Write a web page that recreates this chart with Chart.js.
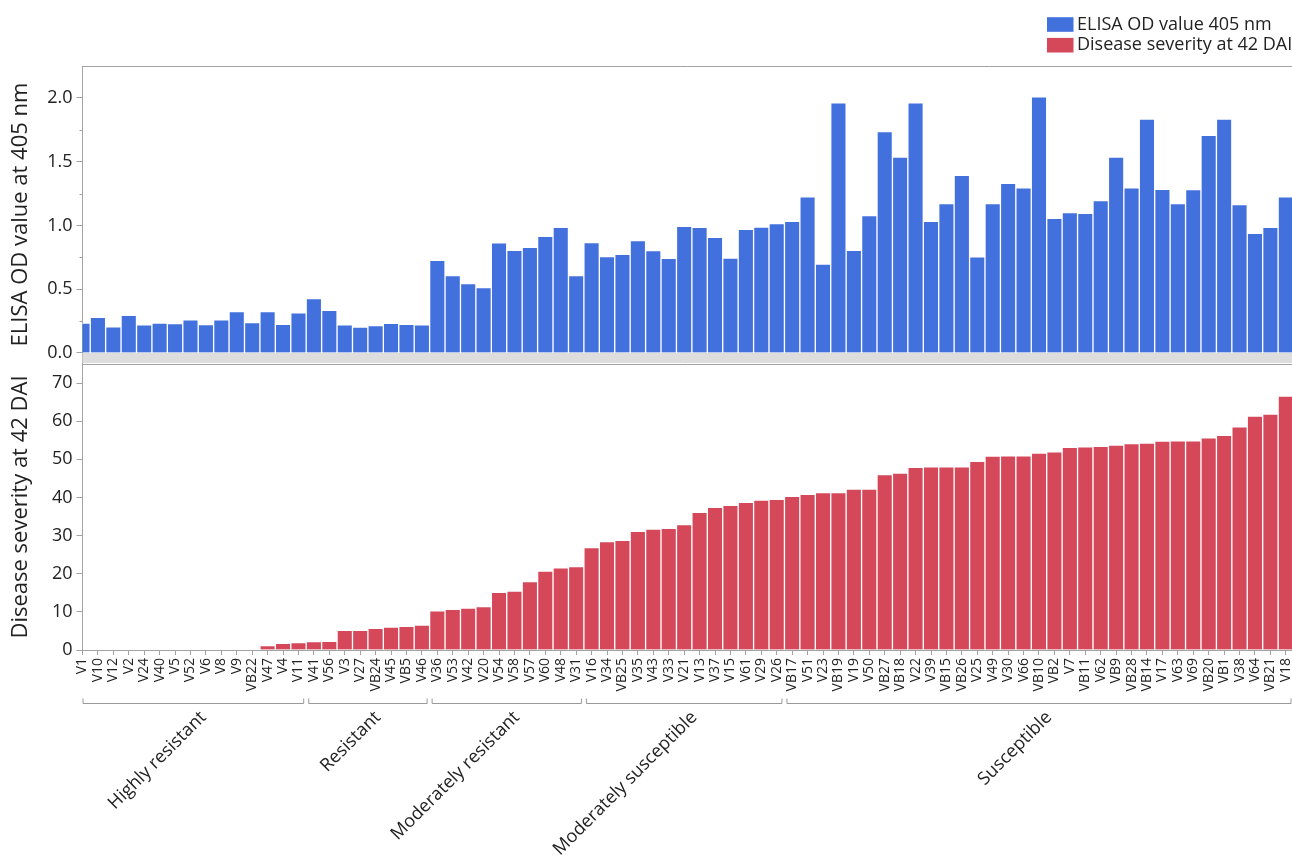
<!DOCTYPE html>
<html><head><meta charset="utf-8">
<script src="https://cdn.jsdelivr.net/npm/chart.js@4.4.1/dist/chart.umd.min.js"></script>
<style>
html,body{margin:0;padding:0;background:#fff;overflow:hidden;width:1292px;height:856px;}
#topChart{position:absolute;left:0;top:0;}
#botChart{position:absolute;left:0;top:364px;}
</style></head><body>
<canvas id="topChart" width="1292" height="364"></canvas>
<canvas id="botChart" width="1292" height="492"></canvas>
<script>
// ---------- data ----------
const categories = ['V1','V10','V12','V2','V24','V40','V5','V52','V6','V8','V9','VB22','V47','V4','V11',
  'V41','V56','V3','V27','VB24','V45','VB5','V46',
  'V36','V53','V42','V20','V54','V58','V57','V60','V48','V31',
  'V16','V34','VB25','V35','V43','V33','V21','V13','V37','V15','V61','V29','V26',
  'VB17','V51','V23','VB19','V19','V50','VB27','VB18','V22','V39','VB15','VB26','V25','V49','V30','V66',
  'VB10','VB2','V7','VB11','V62','VB9','VB28','VB14','V17','V63','V69','VB20','VB1','V38','V64','VB21','V18'];
const elisaValues = [0.235,0.28,0.206,0.295,0.22,0.235,0.23,0.26,0.222,0.26,0.324,0.238,0.324,0.225,0.314,
  0.426,0.335,0.22,0.204,0.214,0.233,0.225,0.22,
  0.727,0.607,0.544,0.512,0.863,0.805,0.829,0.915,0.986,0.607,
  0.865,0.755,0.774,0.881,0.802,0.742,0.993,0.986,0.907,0.745,0.970,0.988,1.014,
  1.033,1.224,0.698,1.961,0.805,1.077,1.736,1.535,1.961,1.033,1.171,1.393,0.753,1.171,1.331,1.294,
  2.008,1.056,1.101,1.095,1.195,1.535,1.294,1.833,1.284,1.171,1.281,1.707,1.833,1.163,0.939,0.986,1.224];
const severityValues = [0,0,0,0,0,0,0,0,0,0,0,0,1.14,1.75,1.92,
  2.18,2.27,5.16,5.16,5.68,6.03,6.2,6.55,
  10.3,10.66,11.0,11.36,15.12,15.47,17.92,20.71,21.58,21.85,
  26.83,28.4,28.75,31.1,31.7,31.9,32.86,36.1,37.4,37.93,38.7,39.3,39.5,
  40.3,40.8,41.25,41.25,42.2,42.2,45.97,46.4,47.9,48.06,48.06,48.06,49.46,50.86,50.95,50.95,
  51.65,52.0,53.14,53.3,53.4,53.75,54.1,54.27,54.8,54.88,54.88,55.67,56.3,58.55,61.35,61.88,66.6];
const elisaTicks = [0, 0.5, 1.0, 1.5, 2.0];
const elisaMinorTicks = [0.25, 0.75, 1.25, 1.75];
const severityTicks = [0, 10, 20, 30, 40, 50, 60, 70];
const groupNames = ['Highly resistant','Resistant','Moderately resistant','Moderately susceptible','Susceptible'];
const groupSizes = [15, 8, 10, 13, 33];
const seriesNames = ['ELISA OD value 405 nm','Disease severity at 42 DAI'];
const axisTitles = ['ELISA OD value at 405 nm','Disease severity at 42 DAI'];

// ---------- style ----------
const BLUE = '#4270dd', RED = '#d4485a', AXIS = '#a3a3a3', TXT = '#222';
const FONT = "'Open Sans', 'Noto Sans', sans-serif";
Chart.defaults.font.family = FONT;
Chart.defaults.color = TXT;
const seriesColors = [BLUE, RED];
const Y_WIDTH = 82.5;

function xScale(show) {
  return {
    type: 'linear', min: 0, max: categories.length - 0.6, display: show, offset: false,
    afterBuildTicks: s => { s.ticks = categories.map((_, i) => ({ value: i })); },
    afterFit: s => { if (show) { s.height = 206; } s.paddingLeft = 0; s.paddingRight = 0; },
    grid: { offset: false, drawOnChartArea: false, drawTicks: true, tickLength: 5, tickColor: AXIS },
    border: { color: AXIS },
    ticks: { autoSkip: false, minRotation: 90, maxRotation: 90, padding: 3,
      font: { size: 14 }, color: TXT, callback: v => categories[v] }
  };
}
function yScale(min, max, ticks, fmt, title) {
  return {
    min, max,
    afterBuildTicks: s => { s.ticks = ticks.map(v => ({ value: v })); },
    afterFit: s => { s.width = Y_WIDTH; s.paddingTop = 0; s.paddingBottom = 0; },
    grid: { drawOnChartArea: false, tickLength: 6, tickColor: AXIS },
    border: { color: AXIS },
    ticks: { padding: 4, font: { size: 18 }, color: TXT, callback: fmt },
    title: { display: true, text: title, font: { size: 22 }, color: TXT, padding: { top: 8, bottom: 0 } }
  };
}
function barSet(label, values, color) {
  return {
    label, data: values.map((v, i) => ({ x: i, y: v })),
    backgroundColor: color, borderColor: 'rgba(255,255,255,0.8)', borderWidth: 1,
    borderSkipped: 'start', barPercentage: 1, categoryPercentage: 1, clip: 0
  };
}

const framePlugin = {
  id: 'frame',
  beforeDatasetsDraw(chart, args, opts) {
    const { ctx, chartArea: a } = chart;
    ctx.save();
    if (opts.band) {
      const y0 = chart.scales.y.getPixelForValue(0);
      ctx.fillStyle = '#dddddd';
      ctx.fillRect(a.left, y0, a.right - a.left, a.bottom - y0);
    }
    ctx.restore();
  },
  afterDraw(chart, args, opts) {
    const { ctx, chartArea: a } = chart;
    ctx.save();
    ctx.strokeStyle = AXIS; ctx.lineWidth = 1;
    ctx.beginPath();
    ctx.moveTo(a.left, Math.round(a.top) + 0.5);
    ctx.lineTo(a.right, Math.round(a.top) + 0.5);
    ctx.stroke();
    if (opts.minor) {
      const ys = chart.scales.y;
      ctx.beginPath();
      opts.minor.forEach(v => {
        const p = Math.round(ys.getPixelForValue(v)) + 0.5;
        ctx.moveTo(a.left - 3, p); ctx.lineTo(a.left, p);
      });
      ctx.stroke();
    }
    ctx.restore();
  }
};

const legendPlugin = {
  id: 'legendBox',
  afterDraw(chart) {
    const ctx = chart.ctx;
    ctx.save();
    ctx.font = '18px ' + FONT;
    ctx.textBaseline = 'middle'; ctx.textAlign = 'left';
    seriesNames.forEach((n, i) => {
      const cy = 24.5 + i * 20.7;
      ctx.fillStyle = seriesColors[i];
      ctx.fillRect(1047, cy - 7.3, 26.5, 14.6);
      ctx.fillStyle = TXT;
      ctx.fillText(n, 1077, cy);
    });
    ctx.restore();
  }
};

const groupPlugin = {
  id: 'groups',
  afterDraw(chart) {
    const { ctx, chartArea: a } = chart;
    const xs = chart.scales.x;
    const by = Math.round(a.bottom + 53) + 0.5;
    ctx.save();
    ctx.strokeStyle = '#999'; ctx.lineWidth = 1;
    ctx.font = '18px ' + FONT; ctx.fillStyle = TXT;
    ctx.textAlign = 'right'; ctx.textBaseline = 'middle';
    let start = 0;
    groupSizes.forEach((n, g) => {
      const first = start, last = start + n - 1; start += n;
      const x0 = Math.max(xs.getPixelForValue(first - 0.5) + 2, a.left);
      const x1 = xs.getPixelForValue(last + 0.5) - 2;
      ctx.beginPath();
      ctx.moveTo(x0 + 0.5, by - 5); ctx.lineTo(x0 + 0.5, by); ctx.lineTo(x1 - 0.5, by); ctx.lineTo(x1 - 0.5, by - 5);
      ctx.stroke();
      const cx = (x0 + x1) / 2;
      ctx.save();
      ctx.translate(cx + 10, by + 11);
      ctx.rotate(-Math.PI / 4);
      ctx.fillText(groupNames[g], 0, 0);
      ctx.restore();
    });
    ctx.restore();
  }
};

new Chart(document.getElementById('topChart'), {
  type: 'bar',
  data: { datasets: [barSet(seriesNames[0], elisaValues, BLUE)] },
  options: {
    responsive: false, animation: false,
    layout: { autoPadding: false, padding: { top: 66, bottom: 1, left: 0, right: 0 } },
    scales: {
      x: xScale(false),
      y: yScale(-0.0784, 2.25, elisaTicks, v => v.toFixed(1), axisTitles[0])
    },
    plugins: { legend: { display: false }, tooltip: { enabled: false }, frame: { band: true, minor: elisaMinorTicks } }
  },
  plugins: [framePlugin, legendPlugin]
});

new Chart(document.getElementById('botChart'), {
  type: 'bar',
  data: { datasets: [barSet(seriesNames[1], severityValues, RED)] },
  options: {
    responsive: false, animation: false,
    layout: { autoPadding: false, padding: { top: 0, bottom: 0, left: 0, right: 0 } },
    scales: {
      x: xScale(true),
      y: yScale(0, 75, severityTicks, v => String(v), axisTitles[1])
    },
    plugins: { legend: { display: false }, tooltip: { enabled: false }, frame: { band: false } }
  },
  plugins: [framePlugin, groupPlugin]
});
</script>
</body></html>
